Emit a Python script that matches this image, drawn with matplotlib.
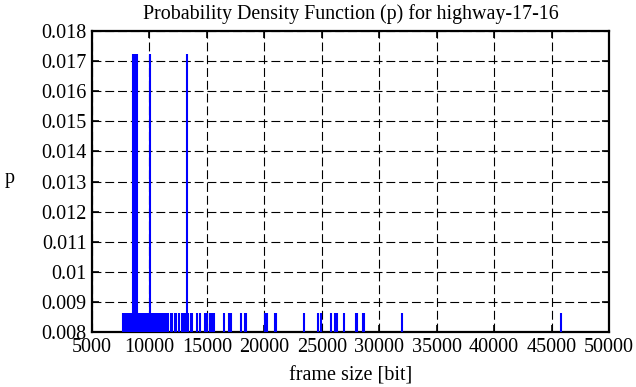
import matplotlib
matplotlib.use("Agg")
import matplotlib.pyplot as plt

# frame sizes (bit) of the impulses and their probability
frame_size = [
    7700, 7900,
    8080, 8230, 8390, 8570, 8740, 8920, 9030, 9180, 9340, 9470, 9620, 9790,
    9920, 10050, 10210, 10370, 10520, 10680, 10810, 10960, 11120, 11270,
    11430, 11590,
    11850, 11980, 12200, 12350, 12550, 12800, 12950, 13120, 13290, 13380,
    13600, 13740, 14140, 14410, 14820, 14980, 15050, 15250, 15400, 15550,
    15650, 16500, 16940, 17100, 17980, 18300, 18420, 20050, 20250, 20920,
    21030, 23470, 24680, 24950, 25820, 26150, 26350, 26950, 27990, 28100,
    28600, 28700, 32000, 45850,
]
tall = {8570, 8740, 8920, 10050, 13290}
prob = [2 / 116 if f in tall else 1 / 116 for f in frame_size]

xticks = [5000, 10000, 15000, 20000, 25000, 30000, 35000, 40000, 45000, 50000]
yticks = [0.008, 0.009, 0.01, 0.011, 0.012, 0.013, 0.014, 0.015, 0.016, 0.017, 0.018]
ytick_labels = ["0.008", "0.009", "0.01", "0.011", "0.012", "0.013", "0.014",
                "0.015", "0.016", "0.017", "0.018"]

plt.rcParams["font.family"] = ["Liberation Serif", "DejaVu Serif"]
plt.rcParams["font.size"] = 14.5

fig = plt.figure(figsize=(6.36, 3.87), dpi=100)
ax = fig.add_axes([92 / 636, 1 - 332 / 387, (609 - 92) / 636, (332 - 31) / 387])

ax.vlines(frame_size, 0, prob, color="#0000ff", linewidth=1.5, zorder=3)

ax.set_xlim(5000, 50000)
ax.set_ylim(0.008, 0.018)
ax.set_xticks(xticks)
ax.set_xticklabels([str(t) for t in xticks])
ax.set_yticks(yticks)
ax.set_yticklabels(ytick_labels)
ax.grid(True, color="black", linewidth=0.8, linestyle=(0, (8, 3.5)))
ax.set_axisbelow(True)
ax.tick_params(direction="in", top=True, right=True, length=5, width=1.2,
               pad=4, labelsize=14.5)
for s in ax.spines.values():
    s.set_linewidth(1.6)

ax.set_title("Probability Density Function (p) for highway-17-16", fontsize=14.4, pad=9)
ax.set_xlabel("frame size [bit]", labelpad=7)
ax.set_ylabel("p", rotation=0, ha="center", va="center")
ax.yaxis.set_label_coords(-0.159, 0.51)

fig.savefig("out.png", dpi=100)
